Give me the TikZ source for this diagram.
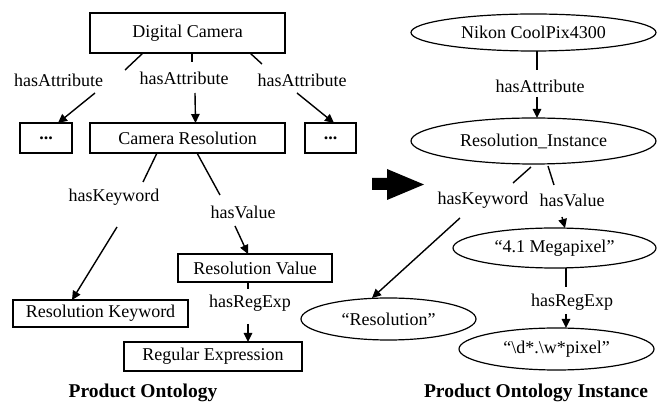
\documentclass[tikz,border=0pt]{standalone}
\usepackage{fontspec}
\setmainfont{Liberation Serif}
\usetikzlibrary{arrows.meta,shapes.geometric}
\begin{document}
\begin{tikzpicture}[x=1pt,y=-1pt,
  every node/.style={font=\fontsize{18}{20}\selectfont, inner sep=0pt, outer sep=0pt},
  cbox/.style={draw, line width=1.3pt, rectangle},
  iell/.style={draw, line width=1.2pt, ellipse},
  lbl/.style={},
  ttl/.style={font=\fontsize{19.5}{22}\selectfont\bfseries},
  link/.style={line width=1.4pt},
  arr/.style={line width=1.4pt, -{Triangle[length=9pt,width=8.5pt]}}
]
\useasboundingbox (0,0) rectangle (657,403);

% Left: product ontology
\node[cbox, minimum width=195pt, minimum height=40pt] (dc) at (187.5,33) {Digital Camera};
\node[cbox, minimum width=52pt, minimum height=30pt] (dotsL) at (46,138) {\textbf{...}};
\node[cbox, minimum width=195pt, minimum height=30pt] (cr) at (187.5,138) {Camera Resolution};
\node[cbox, minimum width=51pt, minimum height=30pt] (dotsR) at (330.5,138) {\textbf{...}};
\node[cbox, minimum width=175pt, minimum height=27pt] (rk) at (100.5,313.5) {Resolution Keyword};
\node[cbox, minimum width=154pt, minimum height=28pt] (rv) at (255,268) {Resolution Value};
\node[cbox, minimum width=178pt, minimum height=29pt] (re) at (213,356.5) {Regular Expression};

\node[lbl] (haL) at (58.5,80) {hasAttribute};
\node[lbl] (haM) at (184,78) {hasAttribute};
\node[lbl] (haR) at (302,80) {hasAttribute};
\node[lbl] (hk) at (114,197) {hasKeyword};
\node[lbl] (hv) at (243,212) {hasValue};
\node[lbl] (hr) at (250,303) {hasRegExp};

\coordinate (p1) at (125,70);  \coordinate (q1) at (95,93);
\coordinate (p2) at (192,62);  \coordinate (q2) at (195,93);
\coordinate (p3) at (262,64);  \coordinate (q3) at (297,93);
\coordinate (p4) at (143,182); \coordinate (q4) at (117,227);
\coordinate (p5) at (220,195); \coordinate (q5) at (235,226);
\coordinate (p6) at (248,289); \coordinate (q6) at (248,324);

\draw[link] ([xshift=-44.5pt]dc.south) -- (p1);
\draw[arr] (q1) -- ([xshift=12pt]dotsL.north);
\draw[link] ([xshift=4.5pt]dc.south) -- (p2);
\draw[arr] (q2) -- ([xshift=8pt]cr.north);
\draw[link] ([xshift=62.5pt]dc.south) -- (p3);
\draw[arr] (q3) -- ([xshift=3.5pt]dotsR.north);
\draw[link] ([xshift=-30.5pt]cr.south) -- (p4);
\draw[arr] (q4) -- ([xshift=-28.5pt]rk.north);
\draw[link] ([xshift=9.5pt]cr.south) -- (p5);
\draw[arr] (q5) -- ([xshift=-7pt]rv.north);
\draw[link] ([xshift=-7pt]rv.south) -- (p6);
\draw[arr] (q6) -- ([xshift=35pt]re.north);

\node[ttl] (t1) at (143,393) {Product Ontology};

% Block arrow
\fill (372,178) -- (387,178) -- (387,169) -- (424,184.5) -- (387,200) -- (387,190) -- (372,190) -- cycle;

% Right: product ontology instance
\node[iell, minimum width=245pt, minimum height=37pt] (nikon) at (533.5,32.5) {Nikon CoolPix4300};
\node[iell, minimum width=245pt, minimum height=46pt] (ri) at (533.5,141) {Resolution\_Instance};
\node[iell, minimum width=203pt, minimum height=40pt] (mp) at (554.5,248) {“4.1 Megapixel”};
\node[iell, minimum width=175pt, minimum height=42pt] (res) at (388.5,319) {“Resolution”};
\node[iell, minimum width=195pt, minimum height=42pt] (dp) at (556.5,349) {“\textbackslash d*.\textbackslash w*pixel”};

\node[lbl] (ha2) at (540,86) {hasAttribute};
\node[lbl] (hk2) at (483,200) {hasKeyword};
\node[lbl] (hv2) at (572,200) {hasValue};
\node[lbl] (hr2) at (572,302) {hasRegExp};

\coordinate (p7) at (537,70);  \coordinate (q7) at (537,97);
\coordinate (p8) at (513,183); \coordinate (q8) at (460,218);
\coordinate (p9) at (554,185); \coordinate (q9) at (562,217);
\coordinate (p10) at (566,287); \coordinate (q10) at (566,314);

\draw[link] ([xshift=3.5pt]nikon.south) -- (p7);
\draw[arr] (q7) -- ([xshift=3.5pt]ri.north);
\draw[link] ([xshift=-2.5pt,yshift=-3pt]ri.south) -- (p8);
\draw[arr] (q8) -- ([xshift=-16.5pt]res.north);
\draw[link] ([xshift=14.5pt,yshift=-2pt]ri.south) -- (p9);
\draw[arr] (q9) -- ([xshift=10.5pt]mp.north);
\draw[link] ([xshift=11.5pt]mp.south) -- (p10);
\draw[arr] (q10) -- ([xshift=9.5pt]dp.north);

\node[ttl] (t2) at (536,393) {Product Ontology Instance};
\end{tikzpicture}
\end{document}
